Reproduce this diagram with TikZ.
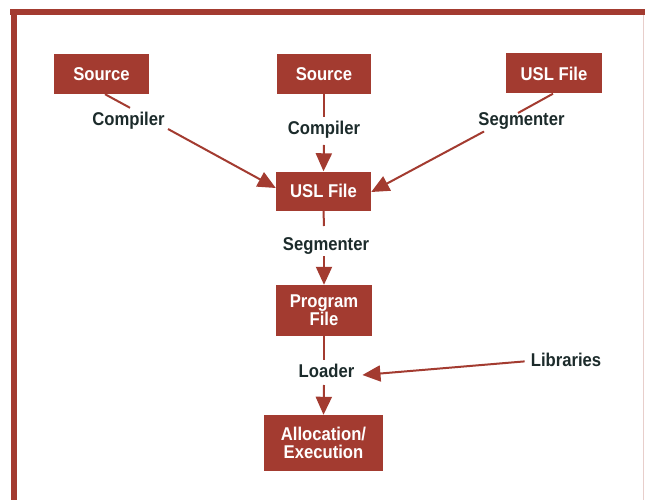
\documentclass[tikz,border=0pt]{standalone}
\usepackage{fontspec}
\setmainfont{Liberation Sans}[FakeStretch=0.9]
\usetikzlibrary{arrows.meta}
\definecolor{brick}{HTML}{A33B30}
\definecolor{ink}{HTML}{1C2B2B}
\begin{document}
\begin{tikzpicture}[x=1pt,y=-1pt,
  box/.style={rectangle, fill=brick, text=white, inner sep=0pt, align=center,
    font=\bfseries\fontsize{18.5}{17}\selectfont},
  lab/.style={text=ink, inner sep=0pt, anchor=base,
    font=\bfseries\fontsize{18.5}{17}\selectfont},
  conn/.style={draw=brick, line width=2pt},
  arr/.style={conn, -{Triangle[length=18pt,width=16pt]}, fill=brick},
]
\useasboundingbox (0,0) rectangle (645,500);
\fill[white] (0,0) rectangle (645,500);
% frame
\fill[brick] (10,9.5) rectangle (645,15.5);
\fill[brick] (10.5,9.5) rectangle (16.5,500);
\draw[line width=1pt, draw=brick!25] (643,15.5) -- (643,500);

% boxes
\node[box, minimum width=95pt, minimum height=40pt] (src1) at (101.5,74) {Source};
\node[box, minimum width=94pt, minimum height=40pt] (src2) at (324,74) {Source};
\node[box, minimum width=96pt, minimum height=40pt] (uslR) at (554,73.5) {USL File};
\node[box, minimum width=95pt, minimum height=39pt] (usl) at (323.5,191) {USL File};
\node[box, minimum width=96pt, minimum height=51pt] (prog) at (324,310.5) {Program\\File};
\node[box, minimum width=119pt, minimum height=56pt] (alloc) at (323.5,443) {Allocation/\\[1pt]Execution};

% labels
\node[lab] (comp1) at (128.5,125) {Compiler};
\node[lab] (comp2) at (324,135) {Compiler};
\node[lab] (segR) at (521.5,126) {Segmenter};
\node[lab] (segM) at (326,250) {Segmenter};
\node[lab] (loader) at (326.5,377) {Loader};
\node[lab] (libs) at (566,366) {Libraries};

% gap coordinates
\coordinate (g1a) at (130,107.8);
\coordinate (g1b) at (168,129);
\coordinate (g2a) at (324,117);
\coordinate (g2b) at (324,145);
\coordinate (g3a) at (518,113);
\coordinate (g3b) at (484,131.5);
\coordinate (g4a) at (324,226);
\coordinate (g4b) at (324,256);
\coordinate (g5a) at (324,360);
\coordinate (g5b) at (324,385);

% connectors
\draw[conn] ([xshift=3.5pt]src1.south) -- (g1a);
\draw[arr] (g1b) -- ([yshift=3pt]usl.west);
\draw[conn] (src2.south) -- (g2a);
\draw[arr] (g2b) -- (usl.north);
\draw[conn] ([xshift=-1pt]uslR.south) -- (g3a);
\draw[arr] (g3b) -- ([yshift=-1pt]usl.east);
\draw[conn] (usl.south) -- (g4a);
\draw[arr] (g4b) -- (prog.north);
\draw[conn] (prog.south) -- (g5a);
\draw[arr] (g5b) -- (alloc.north);
\draw[arr] ([xshift=-6pt,yshift=-2pt]libs.west) -- ([xshift=8pt,yshift=2pt]loader.base east);
\end{tikzpicture}
\end{document}
